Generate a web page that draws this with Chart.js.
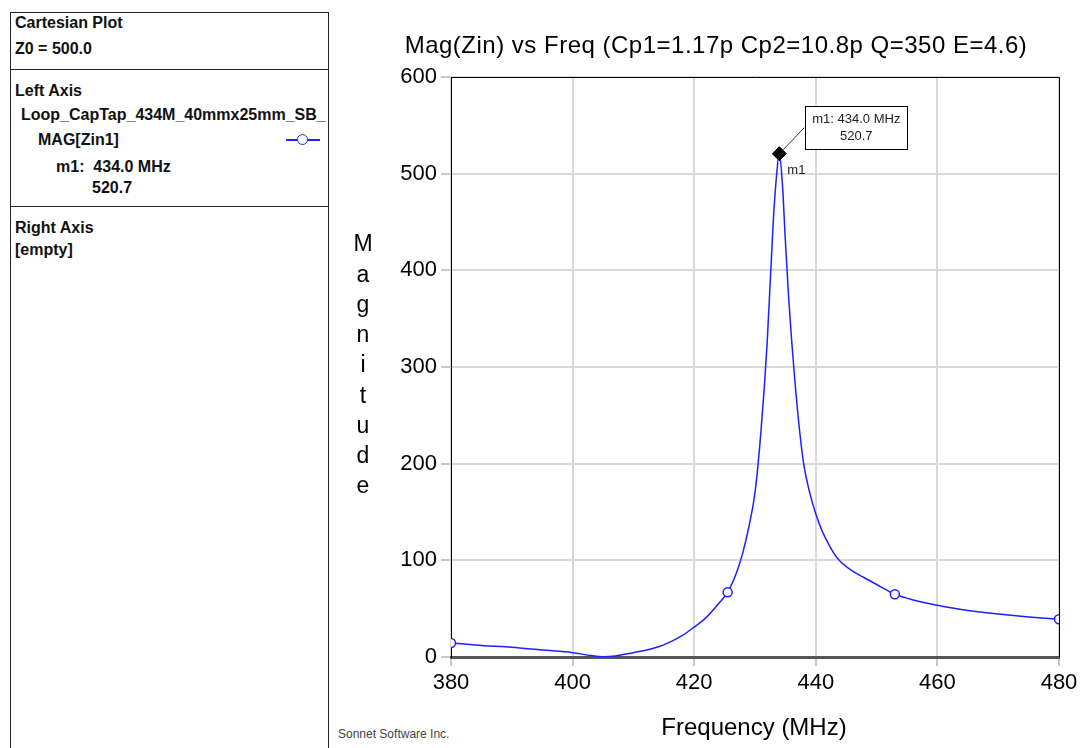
<!DOCTYPE html>
<html><head><meta charset="utf-8">
<script src="https://cdn.jsdelivr.net/npm/chart.js@4/dist/chart.umd.min.js"></script>
<style>
html,body{margin:0;padding:0;background:#fff}
body{width:1083px;height:748px;overflow:hidden;position:relative;font-family:Arial,"Liberation Sans",sans-serif}
#panel{position:absolute;left:10px;top:12px;width:317px;height:760px;border:1px solid #222;overflow:hidden}
#panel .t{position:absolute;font:bold 16px Arial,"Liberation Sans",sans-serif;line-height:18px;white-space:nowrap;color:#111}
#panel .sep{position:absolute;left:0;width:100%;height:1px;background:#222}
#sym{position:absolute;left:286px;top:139px;width:34px;height:2px;background:#2222ff}
#symc{position:absolute;left:297px;top:134px;width:9px;height:9px;border:1.5px solid #2222ff;border-radius:50%;background:#fff}
#credit{position:absolute;left:338px;top:727px;font:12px Arial,"Liberation Sans",sans-serif;color:#444;white-space:nowrap}
#wrap{position:absolute;left:329px;top:0;width:754px;height:748px}
</style></head>
<body>
<div id="panel">
  <div class="t" style="left:4px;top:1px">Cartesian Plot</div>
  <div class="t" style="left:4px;top:27px">Z0 = 500.0</div>
  <div class="sep" style="top:56px"></div>
  <div class="t" style="left:4px;top:69px">Left Axis</div>
  <div class="t" style="left:10px;top:93px">Loop_CapTap_434M_40mmx25mm_SB_</div>
  <div class="t" style="left:27px;top:118px">MAG[Zin1]</div>
  <div class="t" style="left:45px;top:145px">m1:&nbsp; 434.0 MHz</div>
  <div class="t" style="left:81px;top:166px">520.7</div>
  <div class="sep" style="top:193px"></div>
  <div class="t" style="left:4px;top:206px">Right Axis</div>
  <div class="t" style="left:4px;top:228px">[empty]</div>
</div>
<div id="sym"></div><div id="symc"></div>
<div id="credit">Sonnet Software Inc.</div>
<div id="wrap"><canvas id="c" width="754" height="748"></canvas></div>
<script>
// ---- data ----
const freqs = [380,385,390,395,400,403,405,407,410,413,415,418,420,422,424,425.5,427,428,429,430,431,432,433,433.5,434,434.5,435,435.5,436,437,438,439,440,441,442,443,444,446,448,450,453,456,460,465,470,475,480];
const mags  = [14.5,12,10,7.2,4.5,1.5,0.3,1,4.5,8.5,12.5,22,31,41,55,67,88,108,135,170,235,325,450,495,520.7,490,430,375,330,255,200,170,148,131,118,107,99,89,82,75,65,59,53.5,48,44.5,41.5,39];
const markerFreqs = [380,425.5,453,480];
const m1Freq = 434.0;
const m1Value = 520.7;
const xTickValues = [380,400,420,440,460,480];
const yTickValues = [0,100,200,300,400,500,600];
const titleText = 'Mag(Zin) vs Freq (Cp1=1.17p Cp2=10.8p Q=350 E=4.6)';
const yTitle = 'Magnitude';
const xTitle = 'Frequency (MHz)';
const m1Label = 'm1';
const m1BoxLines = ['m1: 434.0 MHz', '520.7'];

function hasFont(name){
  const cv=document.createElement('canvas').getContext('2d');
  cv.font='24px monospace'; const a=cv.measureText('600mmxW').width;
  cv.font='24px "'+name+'", monospace'; const b=cv.measureText('600mmxW').width;
  return a!==b;
}
const tickFont = hasFont('Liberation Sans Narrow') ? {family:'"Liberation Sans Narrow"', size:24}
               : (hasFont('Arial Narrow') ? {family:'"Arial Narrow"', size:24} : {family:'Arial, "Liberation Sans"', size:22});

const BLUE = '#1f1fff';
const overlay = {
  id:'overlay',
  afterDraw(chart){
    const {ctx, chartArea:a, scales} = chart;
    ctx.save();
    ctx.strokeStyle='#000'; ctx.lineWidth=1;
    ctx.beginPath();
    ctx.moveTo(a.left, a.top+0.5); ctx.lineTo(a.right+0.5, a.top+0.5);
    ctx.lineTo(a.right+0.5, a.bottom);
    ctx.stroke();
    ctx.fillStyle='#000'; ctx.textAlign='center'; ctx.textBaseline='middle';
    ctx.font='24px Arial, "Liberation Sans", sans-serif';
    try{ ctx.letterSpacing='0.5px'; }catch(e){}
    ctx.fillText(titleText, 387, 46);
    try{ ctx.letterSpacing='0px'; }catch(e){}
    ctx.font='23px Arial, "Liberation Sans", sans-serif';
    yTitle.split('').forEach((ch,i)=>ctx.fillText(ch, 34, 245 + i*30.25));
    ctx.font='24px Arial, "Liberation Sans", sans-serif';
    ctx.fillText(xTitle, 425, 728);
    const px = scales.x.getPixelForValue(m1Freq), py = scales.y.getPixelForValue(m1Value);
    ctx.strokeStyle='#333'; ctx.lineWidth=1;
    ctx.beginPath(); ctx.moveTo(px+4, py-4); ctx.lineTo(px+25, py-26); ctx.stroke();
    ctx.fillStyle='#fff'; ctx.fillRect(px+26, py-48, 102, 43);
    ctx.strokeStyle='#000'; ctx.strokeRect(Math.round(px+26)+0.5, Math.round(py-48)+0.5, 102, 43);
    ctx.fillStyle='#222'; ctx.font='13px Arial, "Liberation Sans", sans-serif';
    ctx.fillText(m1BoxLines[0], px+77, py-34);
    ctx.fillText(m1BoxLines[1], px+77, py-17);
    ctx.textAlign='left';
    ctx.fillText(m1Label, px+8, py+17);
    ctx.restore();
  }
};

new Chart(document.getElementById('c'), {
  type:'line',
  data:{
    datasets:[
      {
        label:'MAG[Zin1]',
        data: freqs.map((f,i)=>({x:f, y:mags[i]})),
        borderColor:BLUE, borderWidth:1.5,
        cubicInterpolationMode:'monotone',
        pointRadius: c => markerFreqs.includes(freqs[c.dataIndex]) ? 4.5 : 0,
        pointBackgroundColor:'#fff', pointBorderColor:BLUE, pointBorderWidth:1.5,
        fill:false, order:2
      },
      {
        label:'m1',
        data:[{x:m1Freq, y:m1Value}],
        showLine:false, pointStyle:'rectRot', pointRadius:7,
        backgroundColor:'#000', borderColor:'#000', clip:false, order:1
      }
    ]
  },
  options:{
    responsive:false, animation:false,
    layout:{padding:{top:77, right:24, left:0, bottom:0}},
    plugins:{legend:{display:false}, tooltip:{enabled:false}, title:{display:false}},
    scales:{
      x:{
        type:'linear', min:380, max:480,
        afterBuildTicks: s => { s.ticks = xTickValues.map(v=>({value:v})); },
        afterFit: s => { s.height = 91; },
        ticks:{font:tickFont, color:'#000', padding:4, maxRotation:0},
        grid:{color:'#d9d9d9', lineWidth:2, tickLength:9, tickColor:'#c8c8c8'},
        border:{color:'#555', width:3}
      },
      y:{
        type:'linear', min:0, max:600,
        afterBuildTicks: s => { s.ticks = yTickValues.map(v=>({value:v})); },
        afterFit: s => { s.width = 122; },
        ticks:{font:tickFont, color:'#000', padding:4},
        grid:{color:'#d9d9d9', lineWidth:2, tickLength:10, tickColor:'#c8c8c8'},
        border:{color:'#000', width:1}
      }
    }
  },
  plugins:[overlay]
});
</script>
</body></html>
